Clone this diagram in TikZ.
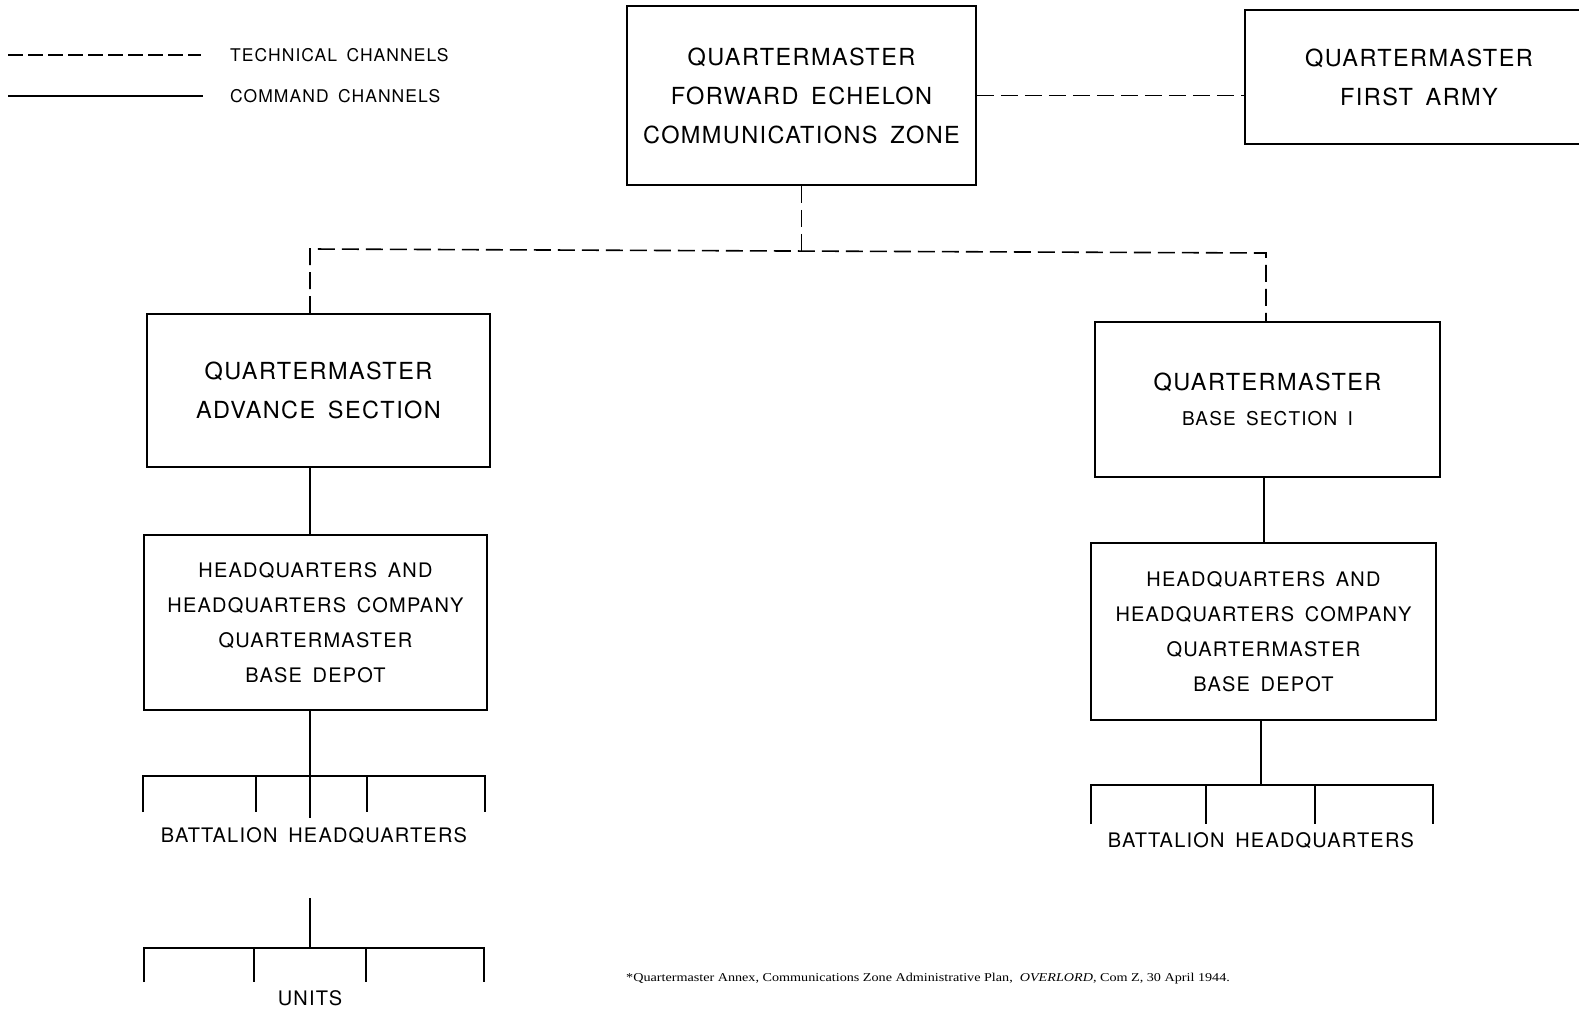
\documentclass[tikz,border=0pt]{standalone}
\usepackage{fontspec}
\setmainfont{TeX Gyre Heros}[LetterSpace=6,WordSpace=1.6]
\newfontfamily\notefont{Liberation Serif}[FakeStretch=1.18]
\usetikzlibrary{calc}
\begin{document}
\begin{tikzpicture}[x=1pt,y=-1pt,
  cmd/.style={line width=1.6pt},
  tech/.style={line width=1.6pt, dash pattern=on 17pt off 7pt},
  box/.style={draw, line width=1.6pt, inner sep=0pt, align=center},
  bigtxt/.style={font=\fontsize{23.5}{39}\selectfont},
  midtxt/.style={font=\fontsize{20}{35}\selectfont},
  legtxt/.style={font=\fontsize{17.5}{20}\selectfont, anchor=west, inner sep=0pt},
  lbl/.style={font=\fontsize{20}{24}\selectfont, inner sep=0pt},
]
\useasboundingbox (0,0) rectangle (1579,1009);

% legend
\coordinate (lt1) at (8,55);   \coordinate (lt2) at (201,55);
\coordinate (lc1) at (8,96);   \coordinate (lc2) at (203,96);
\draw[tech, dash pattern=on 15pt off 5pt] (lt1) -- (lt2);
\draw[cmd] (lc1) -- (lc2);
\node[legtxt] (ltxt) at (230,55) {TECHNICAL CHANNELS};
\node[legtxt] (lctxt) at (230,96) {COMMAND CHANNELS};

% boxes
\node[box, bigtxt, minimum width=349, minimum height=179] (fwd) at (801.5,95.5)
  {QUARTERMASTER\\FORWARD ECHELON\\COMMUNICATIONS ZONE};
\node[bigtxt, inner sep=0pt, minimum width=334, minimum height=134, align=center] (army) at (1412,77)
  {\hspace*{14pt}QUARTERMASTER\\\hspace*{14pt}FIRST ARMY};
\draw[cmd] (army.north east) -- (army.north west) -- (army.south west) -- (army.south east);

\node[box, bigtxt, minimum width=343, minimum height=153] (adv) at (318.5,390.5)
  {QUARTERMASTER\\ADVANCE SECTION};
\node[box, font=\fontsize{23.5}{35}\selectfont, minimum width=345, minimum height=155] (base) at (1267.5,399.5)
  {QUARTERMASTER\\{\fontsize{19}{35}\selectfont BASE SECTION I}};

\node[box, midtxt, minimum width=343, minimum height=175] (hqa) at (315.5,622.5)
  {HEADQUARTERS AND\\HEADQUARTERS COMPANY\\QUARTERMASTER\\BASE DEPOT};
\node[box, midtxt, minimum width=345, minimum height=177] (hqb) at (1263.5,631.5)
  {HEADQUARTERS AND\\HEADQUARTERS COMPANY\\QUARTERMASTER\\BASE DEPOT};

% technical channels
\coordinate (tj) at (801.5,251);
\coordinate (tl) at (310,249);
\coordinate (tr) at (1266,253);
\draw[tech] (fwd.south) -- (tj);
\draw[tech] (tl |- adv.north) -- (tl) -- (tr) -- (tr |- base.north);
\draw[tech] (fwd.east) -- (fwd.east -| army.west);

% command channels, left column
\coordinate (lx) at (310,0);
\draw[cmd] (adv.south -| lx) -- (hqa.north -| lx);
\coordinate (bla) at (310,818);
\draw[cmd] (hqa.south -| lx) -- (bla);
\draw[cmd] (143,812) -- (143,776) -- (485,776) -- (485,812);
\foreach \x in {256,367} \draw[cmd] (\x,776) -- (\x,812);
\node[lbl] (bhqa) at (314,836) {BATTALION HEADQUARTERS};

\coordinate (ua) at (310,898);
\coordinate (ub) at (310,948);
\draw[cmd] (ua) -- (ub);
\draw[cmd] (144,982) -- (144,948) -- (484,948) -- (484,982);
\foreach \x in {254,366} \draw[cmd] (\x,948) -- (\x,982);
\node[lbl] (units) at (310,998) {UNITS};

% command channels, right column
\coordinate (rx) at (1264,0);
\draw[cmd] (base.south -| rx) -- (hqb.north -| rx);
\coordinate (brb) at (1261,785);
\draw[cmd] (hqb.south -| brb) -- (brb);
\draw[cmd] (1091,824) -- (1091,785) -- (1433,785) -- (1433,824);
\foreach \x in {1206,1315} \draw[cmd] (\x,785) -- (\x,824);
\node[lbl] (bhqb) at (1261,841) {BATTALION HEADQUARTERS};

% source note
\node[anchor=west, inner sep=0pt, font=\notefont\fontsize{12}{14}\selectfont] (note) at (626,979)
  {*Quartermaster Annex, Communications Zone Administrative Plan,\ \ \textit{OVERLORD}, Com Z, 30 April 1944.};
\end{tikzpicture}
\end{document}
